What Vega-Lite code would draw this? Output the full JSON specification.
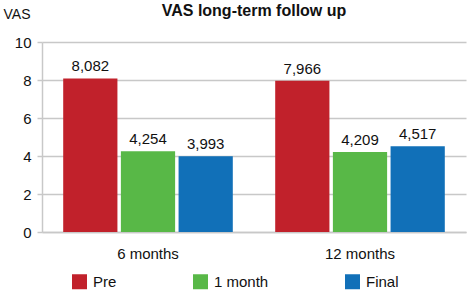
{
  "$schema": "https://vega.github.io/schema/vega-lite/v6.json",
  "width": 424,
  "height": 190,
  "autosize": "none",
  "padding": {"left": 42, "top": 42, "right": 4, "bottom": 64},
  "background": "white",
  "config": {
    "font": "Liberation Sans",
    "view": {"stroke": null},
    "locale": {
      "number": {"decimal": ",", "thousands": ".", "grouping": [3], "currency": ["", ""]}
    }
  },
  "title": {
    "text": "VAS long-term follow up",
    "fontSize": 16,
    "fontWeight": "bold",
    "color": "#111111",
    "anchor": "middle",
    "offset": -12
  },
  "data": {
    "values": [
      {"period": "6 months", "group": "Pre", "vas": 8.082},
      {"period": "6 months", "group": "1 month", "vas": 4.254},
      {"period": "6 months", "group": "Final", "vas": 3.993},
      {"period": "12 months", "group": "Pre", "vas": 7.966},
      {"period": "12 months", "group": "1 month", "vas": 4.209},
      {"period": "12 months", "group": "Final", "vas": 4.517}
    ]
  },
  "encoding": {
    "x": {
      "field": "period",
      "type": "nominal",
      "sort": ["6 months", "12 months"],
      "scale": {"paddingInner": 0.2, "paddingOuter": 0.1},
      "axis": {
        "title": null,
        "labelAngle": 0,
        "labelFontSize": 15,
        "labelColor": "#111111",
        "labelPadding": 14,
        "ticks": false,
        "domainColor": "#c8c8c8",
        "domainWidth": 1.5
      }
    },
    "xOffset": {
      "field": "group",
      "type": "nominal",
      "sort": ["Pre", "1 month", "Final"],
      "scale": {"paddingInner": 0.06, "paddingOuter": 0}
    },
    "y": {
      "field": "vas",
      "type": "quantitative",
      "scale": {"domain": [0, 10]},
      "axis": {
        "values": [0, 2, 4, 6, 8, 10],
        "title": "VAS",
        "titleAngle": 0,
        "titleAlign": "left",
        "titleBaseline": "alphabetic",
        "titleX": -39,
        "titleY": -24,
        "titleFontSize": 14,
        "titleFontWeight": "normal",
        "titleColor": "#111111",
        "labelFontSize": 15,
        "labelColor": "#111111",
        "labelPadding": 6,
        "tickSize": 5,
        "tickColor": "#c8c8c8",
        "tickWidth": 1.5,
        "domainColor": "#c8c8c8",
        "domainWidth": 1.5,
        "grid": true,
        "gridColor": "#c8c8c8",
        "gridWidth": 1.5
      }
    },
    "color": {
      "field": "group",
      "type": "nominal",
      "sort": ["Pre", "1 month", "Final"],
      "scale": {
        "domain": ["Pre", "1 month", "Final"],
        "range": ["#c1212b", "#58b847", "#1170b8"]
      },
      "legend": {
        "title": null,
        "orient": "none",
        "direction": "horizontal",
        "legendX": 30,
        "legendY": 232,
        "symbolType": "square",
        "symbolSize": 225,
        "symbolStrokeWidth": 0,
        "symbolOpacity": 1,
        "labelFontSize": 15,
        "labelColor": "#111111",
        "labelOffset": 6,
        "columnPadding": 76
      }
    }
  },
  "layer": [
    {"mark": {"type": "bar", "stroke": "white", "strokeWidth": 0}},
    {
      "mark": {"type": "text", "baseline": "bottom", "dy": -4, "fontSize": 15, "color": "#111111"},
      "encoding": {
        "text": {"field": "vas", "type": "quantitative", "format": ".3f"},
        "color": {"value": "#111111"}
      }
    }
  ]
}
